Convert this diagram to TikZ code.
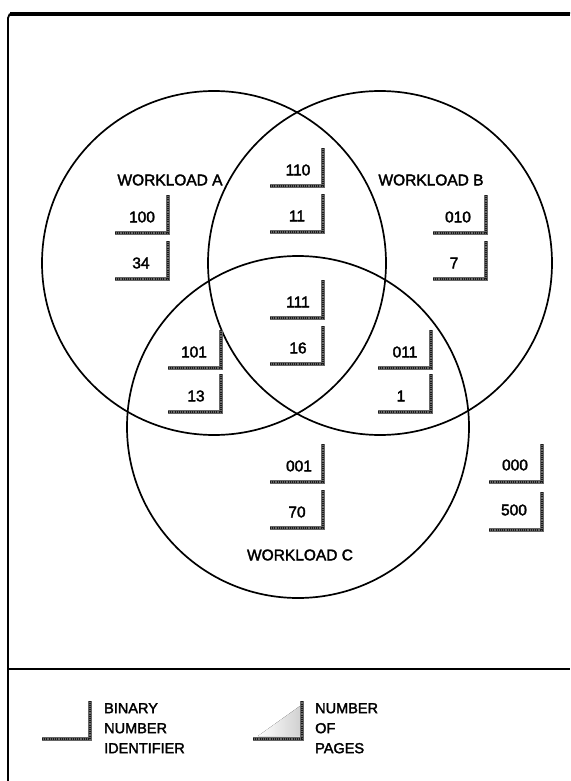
\documentclass[tikz,border=0pt]{standalone}
\usepackage{fontspec}
\setmainfont{Liberation Sans}
\newfontfamily\lbl{Liberation Sans}[FakeBold=2.2]
\begin{document}
\begin{tikzpicture}[x=1pt,y=-1pt,
  ring/.style={draw=black,line width=1.7pt},
  lbar/.style={draw=black!60,line width=3.6pt,line cap=butt},
  ldots/.style={draw=black!90,line width=1.2pt,dash pattern=on 0.8pt off 1.4pt},
  num/.style={font=\lbl\fontsize{15.5}{15.5}\selectfont,inner sep=0pt},
  wl/.style={font=\lbl\fontsize{15.5}{15.5}\selectfont,inner sep=0pt},
  leg/.style={font=\lbl\fontsize{14.5}{20}\selectfont,inner sep=0pt,align=left,anchor=north west},
  frame/.style={draw=black,line width=1.8pt}]
\useasboundingbox (0,0) rectangle (570,781);
% frame
\draw[frame] (8,781) -- (8,18) arc[start angle=180,end angle=90,radius=5pt] -- (570,13);
\draw[draw=black,line width=4.5pt] (10,14) -- (570,14);
\draw[frame,line width=1.4pt] (8,669) -- (570,669);
% circles
\draw[ring] (214,263) circle[radius=172pt];
\draw[ring] (380,263) circle[radius=172pt];
\draw[ring] (298,427) circle[radius=171pt];
% workload labels
\node[wl] (wla) at (170,180) {WORKLOAD A};
\node[wl] (wlb) at (431,180) {WORKLOAD B};
\node[wl] (wlc) at (300,555) {WORKLOAD C};
% L corners
\newcommand{\lcorn}[3]{\draw[lbar] (#1-#3,#2) -- (#1,#2) -- (#1,#2-38);
  \draw[ldots] (#1-#3,#2) -- (#1,#2) -- (#1,#2-38);}
\foreach \cx/\cy in {168/233,168/279,323/186,323/232,486/233,486/279,
  323/318,323/364,221/368,221/412,431/368,431/412,323/482,323/528,542/482,542/530}
  {\lcorn{\cx}{\cy}{53}}
% numbers
\node[num] (n100) at (142,217) {100};
\node[num] (n34)  at (141,263) {34};
\node[num] (n110) at (298,170) {110};
\node[num] (n11)  at (297,216) {11};
\node[num] (n010) at (458,217) {010};
\node[num] (n7)   at (454,263) {7};
\node[num] (n111) at (298,302) {111};
\node[num] (n16)  at (298,348) {16};
\node[num] (n101) at (194,352) {101};
\node[num] (n13)  at (196,396) {13};
\node[num] (n011) at (405,352) {011};
\node[num] (n1)   at (401,396) {1};
\node[num] (n001) at (299,466) {001};
\node[num] (n70)  at (297,512) {70};
\node[num] (n000) at (515,465) {000};
\node[num] (n500) at (514,510) {500};
% legend
\lcorn{90}{739}{48}
\fill[left color=white,right color=black!18] (258,736) -- (300,736) -- (300,706) -- cycle;
\lcorn{302}{739}{49}
\node[leg] (lg1) at (104,703) {BINARY\\NUMBER\\IDENTIFIER};
\node[leg] (lg2) at (315,703) {NUMBER\\OF\\PAGES};
\end{tikzpicture}
\end{document}
